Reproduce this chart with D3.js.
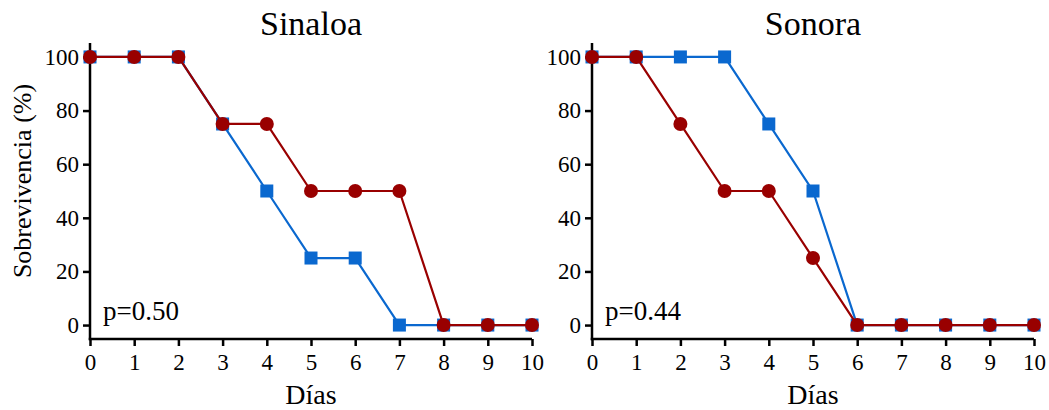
<!DOCTYPE html>
<meta charset="utf-8">
<script src="https://d3js.org/d3.v7.min.js"></script>
<style>
  body { margin: 0; background: #fff; }
  text { font-family: "Liberation Serif", "Times New Roman", serif; fill: #000; }
</style>
<div id="chart"></div>
<script>
// days on the x axis
var days = [0, 1, 2, 3, 4, 5, 6, 7, 8, 9, 10];
var yTicks = [0, 20, 40, 60, 80, 100];
var panelTitles = ["Sinaloa", "Sonora"];
var pValues = ["p=0.50", "p=0.44"];

// survival (%) per day
var sinaloaBlue = [100, 100, 100, 75, 50, 25, 25, 0, 0, 0, 0];
var sinaloaRed  = [100, 100, 100, 75, 75, 50, 50, 50, 0, 0, 0];
var sonoraBlue  = [100, 100, 100, 100, 75, 50, 0, 0, 0, 0, 0];
var sonoraRed   = [100, 100, 75, 50, 50, 25, 0, 0, 0, 0, 0];

var panels = [
  { title: panelTitles[0], p: pValues[0], blue: sinaloaBlue, red: sinaloaRed, left: 90 },
  { title: panelTitles[1], p: pValues[1], blue: sonoraBlue, red: sonoraRed, left: 592 }
];

var W = 1049, H = 410;
var blue = "#0a68cf", red = "#990000";

var svg = d3.select("#chart").append("svg")
  .attr("width", W).attr("height", H);

var y = d3.scaleLinear().domain([-5.2, 105.2]).range([339, 43]);

panels.forEach(function(p, i) {
  var x = d3.scaleLinear().domain([0, 10]).range([p.left, p.left + 442]);
  var g = svg.append("g");

  // y axis
  var ya = g.append("g")
    .attr("transform", "translate(" + p.left + ",0)")
    .call(d3.axisLeft(y).tickValues(yTicks).tickSize(7).tickPadding(4).tickSizeOuter(0));
  // x axis
  var xa = g.append("g")
    .attr("transform", "translate(0,339)")
    .call(d3.axisBottom(x).tickValues(days).tickSize(7).tickPadding(8).tickSizeOuter(0));

  [ya, xa].forEach(function(a) {
    a.select(".domain").attr("stroke", "#000").attr("stroke-width", 2.5);
    a.selectAll(".tick line").attr("stroke", "#000").attr("stroke-width", 2.5);
    a.selectAll(".tick text").style("font-size", "23px")
      .style("font-family", "'Liberation Serif', serif").attr("fill", "#000");
  });
  ya.select(".domain").attr("d", "M0," + (339 + 1.25) + "V43");
  xa.select(".domain").attr("d", "M" + (p.left - 1.25) + ",0H" + (p.left + 442));

  var line = d3.line()
    .x(function(d, j) { return x(days[j]); })
    .y(function(d) { return y(d); });

  // blue series (squares)
  g.append("path").datum(p.blue).attr("d", line)
    .attr("fill", "none").attr("stroke", blue).attr("stroke-width", 2.2);
  g.selectAll(".sq").data(p.blue).enter().append("rect")
    .attr("x", function(d, j) { return x(days[j]) - 6.5; })
    .attr("y", function(d) { return y(d) - 6.5; })
    .attr("width", 13).attr("height", 13)
    .attr("fill", blue);

  // red series (circles)
  g.append("path").datum(p.red).attr("d", line)
    .attr("fill", "none").attr("stroke", red).attr("stroke-width", 2.2);
  g.selectAll(".ci").data(p.red).enter().append("circle")
    .attr("cx", function(d, j) { return x(days[j]); })
    .attr("cy", function(d) { return y(d); })
    .attr("r", 7)
    .attr("fill", red);

  // title
  g.append("text")
    .attr("x", p.left + 221).attr("y", 35)
    .attr("text-anchor", "middle")
    .style("font-size", "34px")
    .text(p.title);

  // p value
  g.append("text")
    .attr("x", p.left + 13).attr("y", 320)
    .style("font-size", "27px")
    .text(p.p);

  // x label
  g.append("text")
    .attr("x", p.left + 221).attr("y", 404)
    .attr("text-anchor", "middle")
    .style("font-size", "28px")
    .text("Días");
});

svg.append("text")
  .attr("transform", "translate(31,181) rotate(-90)")
  .attr("text-anchor", "middle")
  .style("font-size", "26px")
  .text("Sobrevivencia (%)");
</script>
